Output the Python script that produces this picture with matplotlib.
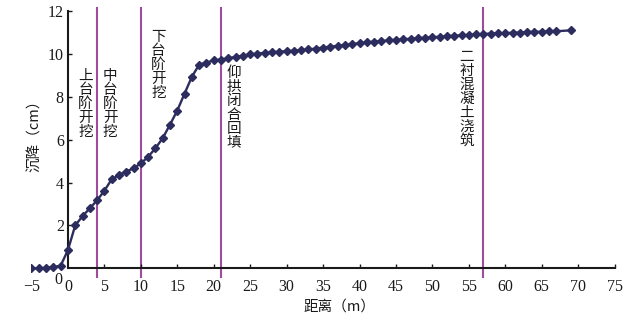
import numpy as np
import matplotlib
matplotlib.use("Agg")
import matplotlib.pyplot as plt

plt.rcParams['font.family'] = ['Liberation Serif', 'Noto Sans CJK SC', 'DejaVu Sans']

# distance (m) and settlement (cm)
dist = list(range(-5, 68)) + [69]
settle = [0.0, 0.0, 0.02, 0.06, 0.12, 0.85, 2.0, 2.43, 2.8, 3.17, 3.62,
          4.15, 4.36, 4.51, 4.67, 4.89, 5.2, 5.6, 6.07, 6.7, 7.36,
          8.15, 8.93, 9.5, 9.6, 9.7, 9.74, 9.8, 9.86, 9.92, 9.98,
          10.02, 10.05, 10.08, 10.1, 10.13, 10.15, 10.18, 10.21, 10.25, 10.3,
          10.34, 10.38, 10.42, 10.46, 10.5, 10.54, 10.57, 10.6, 10.63, 10.66,
          10.68, 10.71, 10.73, 10.76, 10.78, 10.8, 10.83, 10.85, 10.87, 10.89,
          10.91, 10.93, 10.95, 10.96, 10.97, 10.99, 11.0, 11.02, 11.03, 11.04,
          11.05, 11.06, 11.1]

# construction stages: line position, label, label x, label top y
stage_x = [4, 10, 21, 57]
labels = ['上台阶开挖', '中台阶开挖', '下台阶开挖', '仰拱闭合回填', '二衬混凝土浇筑']
label_x = [2.4, 5.8, 12.4, 22.8, 54.7]
label_top = [9.3, 9.3, 11.1, 9.45, 10.2]

xticks = list(range(-5, 80, 5))
yticks = [2, 4, 6, 8, 10, 12]

fig = plt.figure(figsize=(6.41, 3.31), dpi=100)
ax = fig.add_axes([0.0491, 0.157, 0.9098, 0.829])

for xv in stage_x:
    ax.plot([xv, xv], [-0.4, 12.15], color='#9E4C9B', lw=1.5, clip_on=False, zorder=1)

ax.plot(dist, settle, color='#2D2C5E', lw=1.7, marker='D', ms=3.8, zorder=3)

for lab, lx, ly in zip(labels, label_x, label_top):
    ax.text(lx, ly, '\n'.join(lab), ha='center', va='top', fontsize=10.5,
            linespacing=1.0, family=['Noto Sans CJK SC'], color='#1a1a1a')

ax.set_xlim(-5, 75)
ax.set_ylim(-0.5, 12.3)
for s in ['top', 'right']:
    ax.spines[s].set_visible(False)
ax.spines['left'].set_position(('data', 0))
ax.spines['bottom'].set_position(('data', 0))
ax.spines['left'].set_bounds(0, 12)
ax.spines['bottom'].set_bounds(0, 75)
for s in ['left', 'bottom']:
    ax.spines[s].set_linewidth(1.5)
    ax.spines[s].set_color('#1a1a1a')

ax.set_xticks(xticks)
ax.set_xticklabels([str(t).replace('-', '\u2212') for t in xticks], fontsize=11.5)
ax.set_yticks(yticks)
ax.set_yticklabels([str(t) for t in yticks], fontsize=11.5)
ax.tick_params(axis='x', direction='in', length=3, width=1, pad=8, colors='#1a1a1a')
ax.tick_params(axis='y', direction='in', length=3, width=1, pad=3, colors='#1a1a1a')
ax.xaxis.get_major_ticks()[0].tick1line.set_visible(False)
ax.xaxis.get_major_ticks()[1].tick1line.set_visible(False)

ax.text(-0.7, -0.15, '0', ha='right', va='top', fontsize=11.5, color='#1a1a1a')

fig.text(0.055, 0.6, '沉降（cm）', rotation=90, ha='center', va='center',
         fontsize=10.5, family=['Noto Sans CJK SC'], color='#1a1a1a')
fig.text(0.53, 0.075, '距离（m）', ha='center', va='center',
         fontsize=10.5, family=['Noto Sans CJK SC'], color='#1a1a1a')

fig.savefig('out.png', dpi=100)
